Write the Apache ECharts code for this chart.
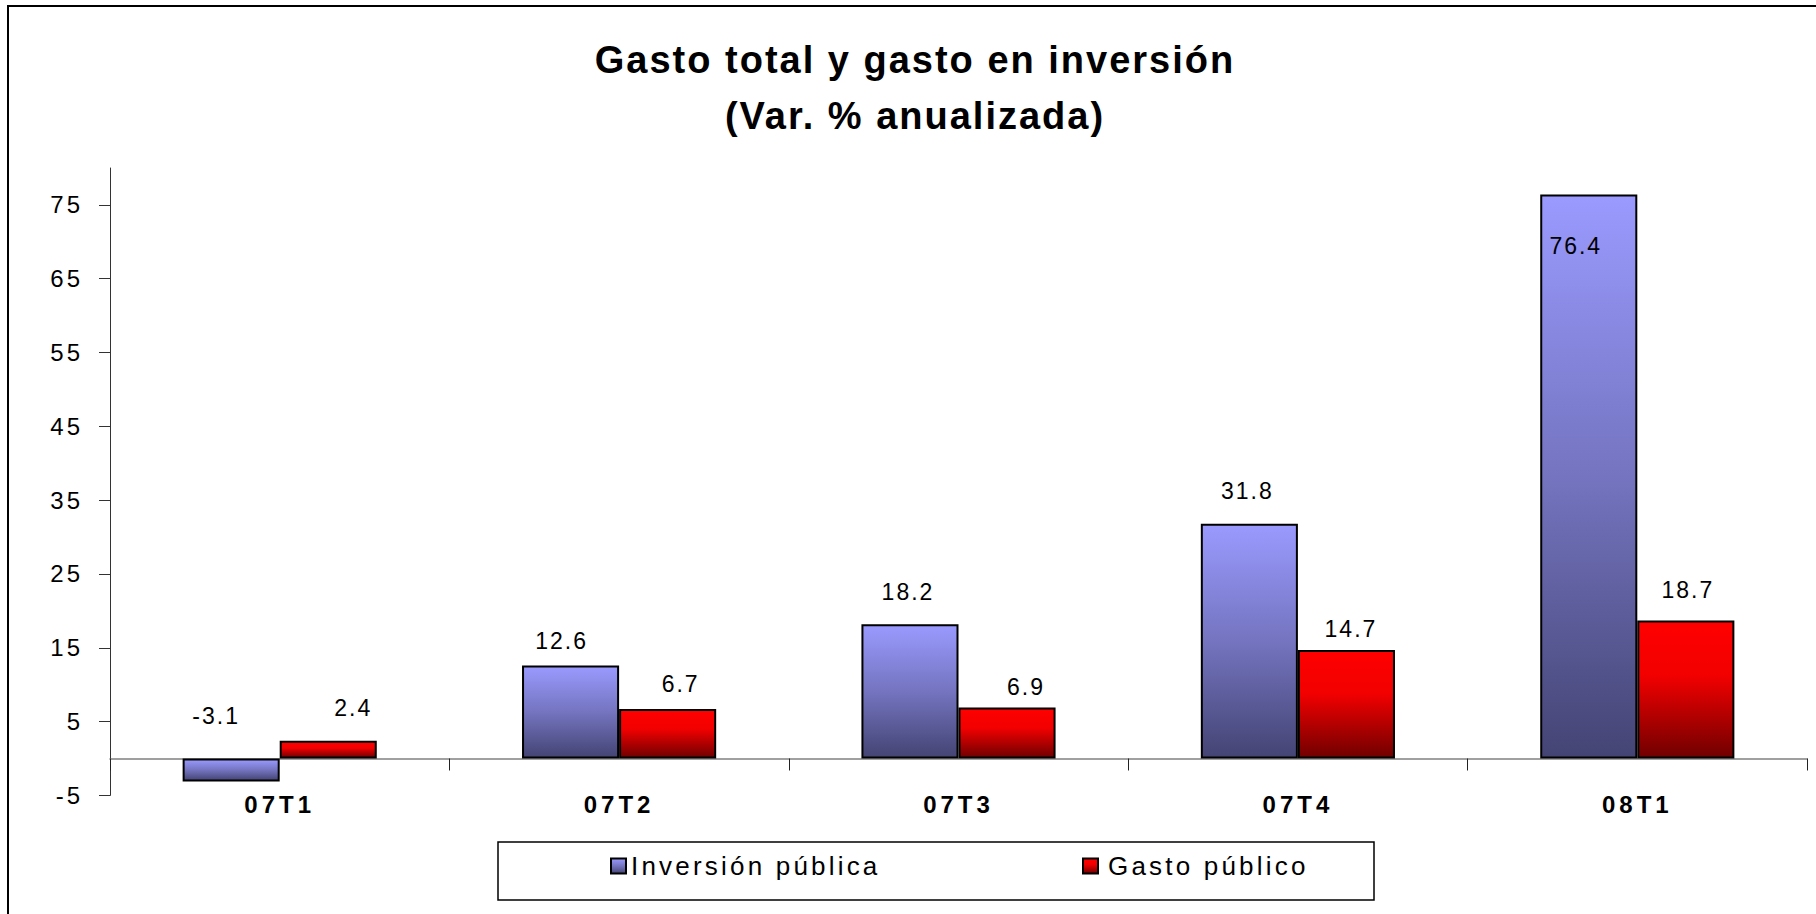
<!DOCTYPE html>
<html>
<head>
<meta charset="utf-8">
<script src="https://cdn.jsdelivr.net/npm/echarts@6/dist/echarts.min.js"></script>
<style>
  html, body { margin: 0; padding: 0; background: #fff; }
  #chart { width: 1816px; height: 914px; letter-spacing: 2px; }
  /* wider tracking for the quarter labels, the value-axis labels and the legend entries */
  #chart text[style*="bold"][style*="24px"] { letter-spacing: 4px; }
  #chart text[style*="24px"]:not([style*="bold"]) { letter-spacing: 3px; }
  #chart text[style*="26px"] { letter-spacing: 3.2px; }
</style>
</head>
<body>
<div id="chart"></div>
<script>
// Quarters and annualised % change
const quarters = ['07T1', '07T2', '07T3', '07T4', '08T1'];
const inversionPublica = [-3.1, 12.6, 18.2, 31.8, 76.4];
const gastoPublico = [2.4, 6.7, 6.9, 14.7, 18.7];
const yTickValues = [-5, 5, 15, 25, 35, 45, 55, 65, 75];
const seriesNames = ['Inversión pública', 'Gasto público'];

// Per-bar nudges [dx, dy] for the value labels
const inversionLabelNudge = [[-15, -31], [-9, -13], [-2, -21], [-2, -21.5], [-13, 62.5]];
const gastoLabelNudge = [[25, -21.5], [13, -14], [19, -9.5], [4.5, -9], [2, -19]];

const FONT = 'Liberation Sans, Arial, sans-serif';

const blueFill = new echarts.graphic.LinearGradient(0, 0, 0, 1, [
  { offset: 0, color: '#9a9aff' },
  { offset: 0.5, color: '#7474c0' },
  { offset: 1, color: '#444474' }
]);
const redFill = new echarts.graphic.LinearGradient(0, 0, 0, 1, [
  { offset: 0, color: '#ff0000' },
  { offset: 0.4, color: '#f20000' },
  { offset: 1, color: '#700000' }
]);

function withLabels(values, nudges) {
  return values.map((v, i) => ({ value: v, label: { offset: nudges[i] } }));
}

const valueLabel = {
  show: true,
  position: 'top',
  distance: 0,
  color: '#000',
  fontFamily: FONT,
  fontSize: 23,
  formatter: p => p.value.toFixed(1)
};

const chart = echarts.init(document.getElementById('chart'), null, { renderer: 'svg' });

chart.setOption({
  backgroundColor: '#fff',
  animation: false,
  title: {
    text: 'Gasto total y gasto en inversión\n(Var. % anualizada)',
    left: 915,
    top: 32,
    padding: 0,
    textAlign: 'center',
    textStyle: {
      fontFamily: FONT,
      fontSize: 38,
      fontWeight: 'bold',
      lineHeight: 56,
      color: '#000'
    }
  },
  legend: [
    {
      data: [seriesNames[0]],
      left: 610, top: 853, padding: 0,
      icon: 'rect', itemWidth: 15, itemHeight: 15,
      textStyle: { fontFamily: FONT, fontSize: 26, color: '#000' }
    },
    {
      data: [seriesNames[1]],
      left: 1082, top: 853, padding: 0,
      icon: 'rect', itemWidth: 15, itemHeight: 15,
      textStyle: { fontFamily: FONT, fontSize: 26, color: '#000', padding: [0, 0, 0, 5] }
    }
  ],
  grid: { left: 110, right: 9, top: 168, bottom: 118.6, containLabel: false },
  xAxis: {
    type: 'category',
    data: quarters,
    boundaryGap: true,
    axisLine: { onZero: true, lineStyle: { color: '#808080', width: 1.5 } },
    axisTick: { show: true, interval: 0, length: 12, lineStyle: { color: '#222', width: 1 } },
    axisLabel: {
      interval: 0,
      margin: -2.5,
      fontFamily: FONT,
      fontSize: 24,
      fontWeight: 'bold',
      color: '#000'
    },
    splitLine: { show: false }
  },
  yAxis: {
    type: 'value',
    min: -5,
    max: 80,
    axisLine: { show: true, lineStyle: { color: '#333', width: 1 } },
    axisTick: { show: true, length: 11, customValues: yTickValues, lineStyle: { color: '#333' } },
    axisLabel: {
      customValues: yTickValues,
      margin: 27,
      fontFamily: FONT,
      fontSize: 24,
      color: '#000'
    },
    splitLine: { show: false }
  },
  series: [
    {
      name: seriesNames[0],
      type: 'bar',
      data: withLabels(inversionPublica, inversionLabelNudge),
      barWidth: '28.6%',
      barGap: '0%',
      itemStyle: { color: blueFill, borderColor: '#000', borderWidth: 2 },
      label: valueLabel
    },
    {
      name: seriesNames[1],
      type: 'bar',
      data: withLabels(gastoPublico, gastoLabelNudge),
      barWidth: '28.6%',
      barGap: '0%',
      itemStyle: { color: redFill, borderColor: '#000', borderWidth: 2 },
      label: valueLabel
    }
  ],
  graphic: [
    {
      type: 'rect',
      shape: { x: 8, y: 6, width: 1820, height: 920 },
      style: { fill: 'none', stroke: '#000', lineWidth: 2 },
      silent: true
    },
    {
      type: 'rect',
      shape: { x: 498, y: 842, width: 876, height: 58 },
      style: { fill: 'none', stroke: '#000', lineWidth: 1.5 },
      silent: true,
      z: -1
    }
  ]
});
</script>
</body>
</html>
